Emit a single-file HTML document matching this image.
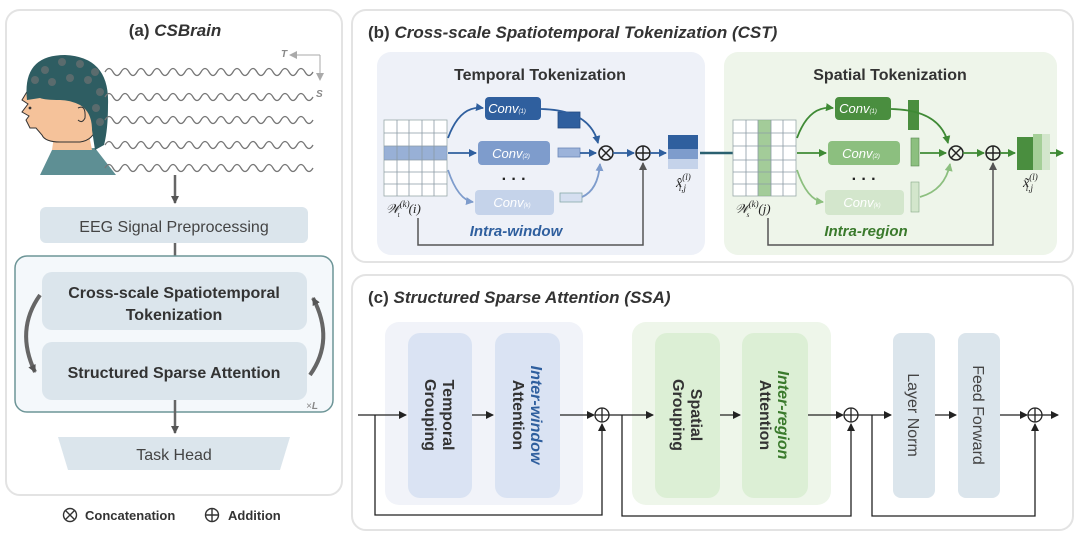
<!DOCTYPE html>
<html><head><meta charset="utf-8"><style>
body{margin:0;background:#fff;width:1080px;height:541px;overflow:hidden}
svg{display:block;font-family:"Liberation Sans",sans-serif}
</style></head><body>
<svg width="1080" height="541" viewBox="0 0 1080 541">
<defs>
<marker id="ag" markerWidth="8" markerHeight="8" refX="7" refY="4" orient="auto" markerUnits="userSpaceOnUse"><path d="M0,0L8,4L0,8z" fill="#555"/></marker>
<marker id="ak" markerWidth="8" markerHeight="8" refX="7" refY="4" orient="auto" markerUnits="userSpaceOnUse"><path d="M0,0L8,4L0,8z" fill="#222"/></marker>
<marker id="ab" markerWidth="8" markerHeight="8" refX="7" refY="4" orient="auto" markerUnits="userSpaceOnUse"><path d="M0,0L8,4L0,8z" fill="#2f5f9e"/></marker>
<marker id="ab2" markerWidth="8" markerHeight="8" refX="7" refY="4" orient="auto" markerUnits="userSpaceOnUse"><path d="M0,0L8,4L0,8z" fill="#7e9ccc"/></marker>
<marker id="agr" markerWidth="8" markerHeight="8" refX="7" refY="4" orient="auto" markerUnits="userSpaceOnUse"><path d="M0,0L8,4L0,8z" fill="#3f8a35"/></marker>
<marker id="agr2" markerWidth="8" markerHeight="8" refX="7" refY="4" orient="auto" markerUnits="userSpaceOnUse"><path d="M0,0L8,4L0,8z" fill="#8cbf7f"/></marker>
<marker id="agy" markerWidth="8" markerHeight="8" refX="7" refY="4" orient="auto" markerUnits="userSpaceOnUse"><path d="M0,0L8,4L0,8z" fill="#aaa"/></marker>
</defs>

<!-- Panel a -->
<rect x="6" y="10" width="336" height="485" rx="14" fill="#fff" stroke="#e3e3e3" stroke-width="2"/>
<text x="175" y="36" font-size="17" font-weight="bold" text-anchor="middle" fill="#333">(a) <tspan font-style="italic">CSBrain</tspan></text>
<!-- head -->
<path d="M40,175 L52,150 L95,148 L116,175 Z" fill="#5e8f94"/>
<path d="M52,150 L55,130 L88,130 L92,150 Z" fill="#f5c29a"/>
<path d="M28,90 Q40,70 70,72 Q100,80 98,120 Q96,140 80,142 L60,142 Q45,142 42,135 L36,128 L30,128 L26,120 L29,116 L22,112 L28,104 L22,100 Z" fill="#f5c29a" stroke="#333" stroke-width="1"/>
<path d="M27,100 Q22,55 65,55 Q110,57 108,105 Q108,130 104,145 L95,150 L92,130 Q92,112 80,105 Q70,100 60,100 Q45,100 40,98 Z" fill="#2e5d62"/>
<path d="M78,108 Q86,104 85,118 Q82,124 78,120" fill="#f5c29a" stroke="#333" stroke-width="1"/>
<circle cx="30" cy="108" r="1.4" fill="#333"/>
<g fill="#5a6b6d"><circle cx="45" cy="70" r="4"/><circle cx="62" cy="62" r="4"/><circle cx="80" cy="64" r="4"/><circle cx="95" cy="72" r="4"/><circle cx="52" cy="82" r="4"/><circle cx="70" cy="78" r="4"/><circle cx="88" cy="80" r="4"/><circle cx="100" cy="92" r="4"/><circle cx="96" cy="108" r="4"/><circle cx="100" cy="122" r="4"/><circle cx="35" cy="80" r="4"/></g>
<!-- waves -->
<g fill="none" stroke="#777" stroke-width="1.3">
<path id="w" d="M105,72 q4,-7 8,0 t8,0 t8,0 t8,0 t8,0 t8,0 t8,0 t8,0 t8,0 t8,0 t8,0 t8,0 t8,0 t8,0 t8,0 t8,0 t8,0 t8,0 t8,0 t8,0 t8,0 t8,0 t8,0 t8,0 t8,0 t8,0"/>
<use href="#w" y="25"/><use href="#w" y="48"/><use href="#w" y="73"/><use href="#w" y="96"/>
</g>
<text x="281" y="57" font-size="10" font-weight="bold" font-style="italic" fill="#888">T</text>
<path d="M320,55 L290,55" stroke="#aaa" marker-end="url(#agy)"/>
<path d="M320,55 L320,80" stroke="#aaa" marker-end="url(#agy)"/>
<text x="316" y="97" font-size="10" font-weight="bold" font-style="italic" fill="#888">S</text>
<line x1="175" y1="175" x2="175" y2="203" stroke="#666" stroke-width="2.5" marker-end="url(#ag)"/>
<rect x="40" y="207" width="268" height="36" rx="6" fill="#dbe5ec"/>
<text x="174" y="232" font-size="16" text-anchor="middle" fill="#444">EEG Signal Preprocessing</text>
<line x1="175" y1="243" x2="175" y2="267" stroke="#666" stroke-width="2.5" marker-end="url(#ag)"/>
<rect x="15" y="256" width="318" height="156" rx="12" fill="#f4f8fb" stroke="#6d9597" stroke-width="1.5"/>
<rect x="42" y="272" width="265" height="58" rx="10" fill="#dbe5ec"/>
<text x="174" y="298" font-size="16" font-weight="bold" text-anchor="middle" fill="#333">Cross-scale Spatiotemporal</text>
<text x="174" y="320" font-size="16" font-weight="bold" text-anchor="middle" fill="#333">Tokenization</text>
<rect x="42" y="342" width="265" height="58" rx="10" fill="#dbe5ec"/>
<text x="174" y="378" font-size="16" font-weight="bold" text-anchor="middle" fill="#333">Structured Sparse Attention</text>
<path d="M40,295 Q15,330 35,372" fill="none" stroke="#666" stroke-width="4" marker-end="url(#ag)"/>
<path d="M310,375 Q335,340 313,298" fill="none" stroke="#666" stroke-width="4" marker-end="url(#ag)"/>
<text x="306" y="409" font-size="10" font-style="italic" fill="#888">×<tspan font-weight="bold">L</tspan></text>
<line x1="175" y1="400" x2="175" y2="433" stroke="#666" stroke-width="2.5" marker-end="url(#ag)"/>
<path d="M58,437 L290,437 L280,470 L68,470 Z" fill="#dbe5ec"/>
<text x="174" y="460" font-size="16" text-anchor="middle" fill="#444">Task Head</text>
<!-- legend -->
<circle cx="70" cy="515" r="6.5" fill="none" stroke="#333" stroke-width="1.4"/><path d="M65.5,510.5L74.5,519.5M74.5,510.5L65.5,519.5" stroke="#333" stroke-width="1.4"/>
<text x="85" y="520" font-size="13" font-weight="bold" fill="#333">Concatenation</text>
<circle cx="212" cy="515" r="6.5" fill="none" stroke="#333" stroke-width="1.4"/><path d="M205.5,515H218.5M212,508.5V521.5" stroke="#333" stroke-width="1.4"/>
<text x="228" y="520" font-size="13" font-weight="bold" fill="#333">Addition</text>

<!-- Panel b -->
<rect x="352" y="10" width="721" height="252" rx="14" fill="#fff" stroke="#e3e3e3" stroke-width="2"/>
<text x="368" y="38" font-size="17" font-weight="bold" fill="#333">(b) <tspan font-style="italic">Cross-scale Spatiotemporal Tokenization (CST)</tspan></text>
<rect x="377" y="52" width="328" height="203" rx="14" fill="#eef1f8"/>
<rect x="724" y="52" width="333" height="203" rx="14" fill="#eef5ea"/>
<text x="540" y="80" font-size="16" font-weight="bold" text-anchor="middle" fill="#333">Temporal Tokenization</text>
<text x="890" y="80" font-size="16" font-weight="bold" text-anchor="middle" fill="#333">Spatial Tokenization</text>

<!-- temporal -->
<rect x="384" y="120" width="63" height="76" fill="#fff" stroke="#9aa" stroke-width="0.8"/>
<rect x="384" y="146" width="63" height="14" fill="#7e9ccc" opacity="0.8"/>
<g stroke="#8a9aa5" stroke-width="0.8">
<path d="M384,133H447M384,146H447M384,160H447M384,172H447M384,184H447M397,120V196M409,120V196M422,120V196M434,120V196"/>
</g>
<text x="386" y="213" font-size="13" font-style="italic" font-family="Liberation Serif" fill="#222">𝒲<tspan font-size="9" dy="-6">(k)</tspan><tspan font-size="7" dx="-12" dy="10">t</tspan><tspan dy="-4" dx="9">(i)</tspan></text>
<path d="M448,138 Q460,105 483,108" fill="none" stroke="#2f5f9e" stroke-width="1.8" marker-end="url(#ab)"/>
<line x1="448" y1="153" x2="476" y2="153" stroke="#2f5f9e" stroke-width="1.8" marker-end="url(#ab)"/>
<path d="M448,170 Q458,200 473,202" fill="none" stroke="#7e9ccc" stroke-width="1.8" marker-end="url(#ab2)"/>
<rect x="485" y="97" width="56" height="23" rx="4" fill="#2f5f9e"/>
<text x="507" y="113" font-size="13" font-style="italic" fill="#fff" text-anchor="middle">Conv<tspan font-size="6">(1)</tspan></text>
<rect x="478" y="141" width="72" height="24" rx="4" fill="#7e9ccc"/>
<text x="511" y="158" font-size="13" font-style="italic" fill="#fff" text-anchor="middle">Conv<tspan font-size="6">(2)</tspan></text>
<text x="514" y="184" font-size="16" font-weight="bold" text-anchor="middle" fill="#222">· · ·</text>
<rect x="475" y="190" width="79" height="25" rx="4" fill="#c5d3ea"/>
<text x="512" y="207" font-size="13" font-style="italic" fill="#fff" text-anchor="middle">Conv<tspan font-size="6">(k)</tspan></text>
<rect x="558" y="112" width="22" height="16" fill="#2f5f9e" stroke="#244a80" stroke-width="0.8"/>
<rect x="558" y="148" width="22" height="9" fill="#9cb3da" stroke="#6a86b8" stroke-width="0.8"/>
<rect x="560" y="193" width="22" height="9" fill="#d5dff0" stroke="#8aa" stroke-width="0.8"/>
<path d="M541,109 Q590,110 598,143" fill="none" stroke="#2f5f9e" stroke-width="1.8" marker-end="url(#ab)"/>
<line x1="580" y1="153" x2="596" y2="153" stroke="#2f5f9e" stroke-width="1.8" marker-end="url(#ab)"/>
<path d="M582,197 Q598,190 600,164" fill="none" stroke="#7e9ccc" stroke-width="1.8" marker-end="url(#ab2)"/>
<circle cx="606" cy="153" r="7" fill="none" stroke="#222" stroke-width="1.5"/><path d="M601,148L611,158M611,148L601,158" stroke="#222" stroke-width="1.5"/>
<line x1="613" y1="153" x2="634" y2="153" stroke="#2f5f9e" stroke-width="1.8" marker-end="url(#ab)"/>
<circle cx="643" cy="153" r="7" fill="none" stroke="#222" stroke-width="1.5"/><path d="M636,153H650M643,146V160" stroke="#222" stroke-width="1.5"/>
<line x1="650" y1="153" x2="666" y2="153" stroke="#2f5f9e" stroke-width="1.8" marker-end="url(#ab)"/>
<rect x="668" y="135" width="30" height="14" fill="#2f5f9e"/><rect x="668" y="149" width="30" height="10" fill="#7e9ccc"/><rect x="668" y="159" width="30" height="10" fill="#c5d3ea"/>
<line x1="700" y1="153" x2="733" y2="153" stroke="#2a6070" stroke-width="2.5"/>
<text x="676" y="187" font-size="14" font-style="italic" font-family="Liberation Serif" fill="#222">x̂<tspan font-size="9" dy="-7">(l)</tspan><tspan font-size="9" dx="-12" dy="11">i,j</tspan></text>
<path d="M418,218 V245 H643 V163" fill="none" stroke="#555" stroke-width="1.5" marker-end="url(#ag)"/>
<text x="516" y="236" font-size="15" font-weight="bold" font-style="italic" text-anchor="middle" fill="#2f5f9e">Intra-window</text>

<!-- spatial -->
<rect x="733" y="120" width="63" height="76" fill="#fff" stroke="#9aa" stroke-width="0.8"/>
<rect x="758" y="120" width="13" height="76" fill="#8cbf7f" opacity="0.8"/>
<g stroke="#8a9aa5" stroke-width="0.8"><path d="M733,133H796M733,146H796M733,160H796M733,172H796M733,184H796M746,120V196M758,120V196M771,120V196M783,120V196"/></g>
<text x="735" y="213" font-size="13" font-style="italic" font-family="Liberation Serif" fill="#222">𝒲<tspan font-size="9" dy="-6">(k)</tspan><tspan font-size="7" dx="-12" dy="10">s</tspan><tspan dy="-4" dx="9">(j)</tspan></text>
<path d="M797,138 Q809,105 833,108" fill="none" stroke="#3f8a35" stroke-width="1.8" marker-end="url(#agr)"/>
<line x1="797" y1="153" x2="826" y2="153" stroke="#3f8a35" stroke-width="1.8" marker-end="url(#agr)"/>
<path d="M797,170 Q807,200 823,202" fill="none" stroke="#8cbf7f" stroke-width="1.8" marker-end="url(#agr2)"/>
<rect x="835" y="97" width="56" height="23" rx="4" fill="#4a8e3f"/>
<text x="858" y="113" font-size="13" font-style="italic" fill="#fff" text-anchor="middle">Conv<tspan font-size="6">(1)</tspan></text>
<rect x="828" y="141" width="72" height="24" rx="4" fill="#8cbf7f"/>
<text x="861" y="158" font-size="13" font-style="italic" fill="#fff" text-anchor="middle">Conv<tspan font-size="6">(2)</tspan></text>
<text x="864" y="184" font-size="16" font-weight="bold" text-anchor="middle" fill="#222">· · ·</text>
<rect x="825" y="190" width="79" height="25" rx="4" fill="#d3e6cc"/>
<text x="862" y="207" font-size="13" font-style="italic" fill="#fff" text-anchor="middle">Conv<tspan font-size="6">(k)</tspan></text>
<rect x="908" y="100" width="11" height="30" fill="#4a8e3f"/>
<rect x="911" y="138" width="8" height="28" fill="#8cbf7f" stroke="#5a8a50" stroke-width="0.6"/>
<rect x="911" y="182" width="8" height="30" fill="#d3e6cc" stroke="#8a8" stroke-width="0.6"/>
<path d="M891,109 Q940,110 948,143" fill="none" stroke="#3f8a35" stroke-width="1.8" marker-end="url(#agr)"/>
<line x1="920" y1="153" x2="946" y2="153" stroke="#3f8a35" stroke-width="1.8" marker-end="url(#agr)"/>
<path d="M920,197 Q945,190 950,164" fill="none" stroke="#8cbf7f" stroke-width="1.8" marker-end="url(#agr2)"/>
<circle cx="956" cy="153" r="7" fill="none" stroke="#222" stroke-width="1.5"/><path d="M951,148L961,158M961,148L951,158" stroke="#222" stroke-width="1.5"/>
<line x1="963" y1="153" x2="984" y2="153" stroke="#3f8a35" stroke-width="1.8" marker-end="url(#agr)"/>
<circle cx="993" cy="153" r="7" fill="none" stroke="#222" stroke-width="1.5"/><path d="M986,153H1000M993,146V160" stroke="#222" stroke-width="1.5"/>
<line x1="1000" y1="153" x2="1015" y2="153" stroke="#3f8a35" stroke-width="1.8" marker-end="url(#agr)"/>
<rect x="1017" y="137" width="16" height="33" fill="#4a8e3f"/><rect x="1033" y="134" width="9" height="36" fill="#a5cf98"/><rect x="1042" y="134" width="8" height="36" fill="#d3e6cc"/>
<line x1="1050" y1="153" x2="1063" y2="153" stroke="#3f8a35" stroke-width="1.8" marker-end="url(#agr)"/>
<text x="1023" y="187" font-size="14" font-style="italic" font-family="Liberation Serif" fill="#222">x̃<tspan font-size="9" dy="-7">(l)</tspan><tspan font-size="9" dx="-12" dy="11">i,j</tspan></text>
<path d="M768,218 V245 H993 V163" fill="none" stroke="#555" stroke-width="1.5" marker-end="url(#ag)"/>
<text x="866" y="236" font-size="15" font-weight="bold" font-style="italic" text-anchor="middle" fill="#3a7a2c">Intra-region</text>

<!-- Panel c -->
<rect x="352" y="275" width="721" height="255" rx="14" fill="#fff" stroke="#e3e3e3" stroke-width="2"/>
<text x="368" y="303" font-size="17" font-weight="bold" fill="#333">(c) <tspan font-style="italic">Structured Sparse Attention (SSA)</tspan></text>
<rect x="385" y="322" width="198" height="183" rx="14" fill="#f1f3f9"/>
<rect x="632" y="322" width="199" height="183" rx="14" fill="#eef6ea"/>
<rect x="408" y="333" width="64" height="165" rx="12" fill="#dae3f3"/>
<rect x="495" y="333" width="65" height="165" rx="12" fill="#dae3f3"/>
<rect x="655" y="333" width="65" height="165" rx="12" fill="#dcefd5"/>
<rect x="742" y="333" width="66" height="165" rx="12" fill="#dcefd5"/>
<rect x="893" y="333" width="42" height="165" rx="8" fill="#dbe5ec"/>
<rect x="958" y="333" width="42" height="165" rx="8" fill="#dbe5ec"/>
<g font-size="16" text-anchor="middle">
<text transform="translate(440,415) rotate(90)" font-weight="bold" fill="#333"><tspan x="0" y="-3">Temporal</tspan><tspan x="0" y="15">Grouping</tspan></text>
<text transform="translate(528,415) rotate(90)" font-weight="bold" fill="#333"><tspan x="0" y="-3" font-style="italic" fill="#2f5f9e">Inter-window</tspan><tspan x="0" y="15">Attention</tspan></text>
<text transform="translate(688,415) rotate(90)" font-weight="bold" fill="#333"><tspan x="0" y="-3">Spatial</tspan><tspan x="0" y="15">Grouping</tspan></text>
<text transform="translate(775,415) rotate(90)" font-weight="bold" fill="#333"><tspan x="0" y="-3" font-style="italic" fill="#3a7a2c">Inter-region</tspan><tspan x="0" y="15">Attention</tspan></text>
<text transform="translate(914,415) rotate(90)" fill="#444" y="6">Layer Norm</text>
<text transform="translate(979,415) rotate(90)" fill="#444" y="6">Feed Forward</text>
</g>
<g stroke="#222" stroke-width="1.3" fill="none">
<line x1="358" y1="415" x2="406" y2="415" marker-end="url(#ak)"/>
<line x1="472" y1="415" x2="493" y2="415" marker-end="url(#ak)"/>
<line x1="560" y1="415" x2="594" y2="415" marker-end="url(#ak)"/>
<line x1="609" y1="415" x2="653" y2="415" marker-end="url(#ak)"/>
<line x1="720" y1="415" x2="740" y2="415" marker-end="url(#ak)"/>
<line x1="808" y1="415" x2="843" y2="415" marker-end="url(#ak)"/>
<line x1="858" y1="415" x2="891" y2="415" marker-end="url(#ak)"/>
<line x1="935" y1="415" x2="956" y2="415" marker-end="url(#ak)"/>
<line x1="1000" y1="415" x2="1027" y2="415" marker-end="url(#ak)"/>
<line x1="1042" y1="415" x2="1058" y2="415" marker-end="url(#ak)"/>
<path d="M375,415 V515 H602 V424" marker-end="url(#ak)"/>
<path d="M622,415 V516 H851 V424" marker-end="url(#ak)"/>
<path d="M872,415 V516 H1035 V424" marker-end="url(#ak)"/>
<circle cx="602" cy="415" r="7"/><path d="M595,415H609M602,408V422"/>
<circle cx="851" cy="415" r="7"/><path d="M844,415H858M851,408V422"/>
<circle cx="1035" cy="415" r="7"/><path d="M1028,415H1042M1035,408V422"/>
</g>
</svg>
</body></html>
